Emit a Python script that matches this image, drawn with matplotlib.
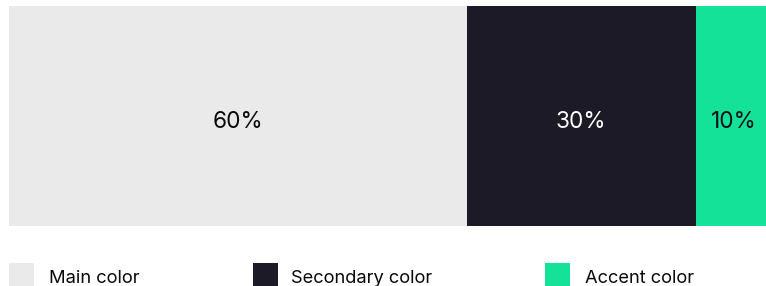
import matplotlib
matplotlib.use("Agg")
import matplotlib.pyplot as plt
from matplotlib.patches import Rectangle

categories = ["Main color", "Secondary color", "Accent color"]
shares = [60, 30, 10]
labels = ["60%", "30%", "10%"]
colors = ["#EAEAEA", "#1B1A26", "#13E298"]
text_colors = ["#0A0A0A", "#FFFFFF", "#111019"]

plt.rcParams['font.family'] = ['Inter', 'DejaVu Sans']

W, H = 766, 286
fig = plt.figure(figsize=(W / 100, H / 100), dpi=100)

# axes spans px 9..772 horizontally (bar extends past right edge), 6..226 vertically
ax = fig.add_axes([9 / W, (H - 226) / H, 763 / W, 220 / H])
left = 0
for share, lab, c, tc in zip(shares, labels, colors, text_colors):
    ax.barh(0, share, left=left, height=1, color=c, edgecolor='none')
    ax.text(left + share / 2, -0.025, lab, ha='center', va='center',
            fontsize=16.3, color=tc)
    left += share
ax.set_xlim(0, 100)
ax.set_ylim(-0.5, 0.5)
ax.axis('off')

# legend, drawn in pixel positions
sq_x = [9, 253, 545]
tx_x = [49, 291, 585]
for cat, c, sx, tx in zip(categories, colors, sq_x, tx_x):
    fig.add_artist(Rectangle((sx / W, (H - 289) / H), 25 / W, 26 / H,
                             transform=fig.transFigure, color=c, lw=0))
    fig.text(tx / W, (H - 283) / H, cat, ha='left', va='baseline',
             fontsize=13.2, color='#0A0A0A')

fig.savefig("out.png", dpi=100)
